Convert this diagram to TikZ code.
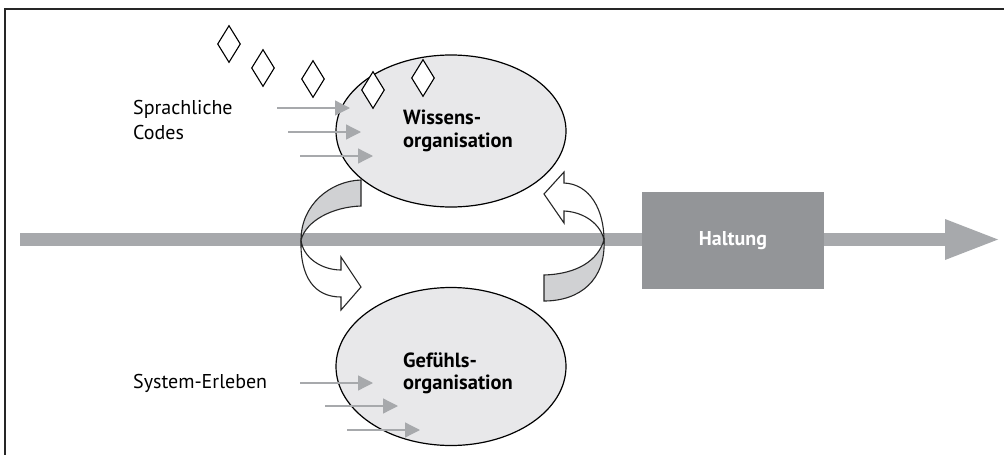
\documentclass[tikz,border=0pt]{standalone}
\usepackage{fontspec}
\setmainfont{PT Sans}
\usetikzlibrary{shapes, arrows.meta, positioning}

\definecolor{bargray}{RGB}{167,169,172}
\definecolor{boxgray}{RGB}{147,149,152}
\definecolor{ellgray}{RGB}{232,232,234}
\definecolor{bandgray}{RGB}{208,209,211}

\begin{document}
\begin{tikzpicture}[
    x=1pt, y=-1pt,
    font=\fontsize{20}{24.5}\selectfont,
    orga/.style={draw, ellipse, line width=1.2pt, fill=ellgray, minimum width=230pt},
    orgatext/.style={align=left, inner sep=0pt, font=\fontsize{20.5}{22.5}\selectfont\bfseries},
    sidetext/.style={anchor=west, align=left, inner sep=0pt},
    code/.style={draw, diamond, fill=white, line width=1.1pt, minimum width=23pt, minimum height=37pt, inner sep=0pt},
    feed/.style={bargray, line width=1.3pt, -{Triangle[length=15pt,width=15pt]}},
    band/.style={draw=black!85, line width=1.1pt},
    mainbar/.style={bargray, line width=13pt, -{Triangle[length=53pt,width=41pt,line width=0pt]}}
]
    \useasboundingbox (0,0) rectangle (1004,455);

    % Frame
    \draw[line width=1.6pt, black!85] (5,455) -- (5,9) -- (1004,9);

    % Main Bar
    \coordinate (barstart) at (20,239.5);
    \coordinate (bartip) at (998,239.5);
    \draw[mainbar] (barstart) -- (bartip);
    \node[draw=none, fill=boxgray, minimum width=182pt, minimum height=97pt, text=white, font=\fontsize{20}{24.5}\selectfont\bfseries] (haltung) at (733,240.5) {Haltung};

    % Organisations
    \node[orga, minimum height=152pt] (wissen) at (451,131) {};
    \node[orga, minimum height=158pt] (gefuehl) at (451,366.5) {};
    \node[orgatext, xshift=7pt] (wissentext) at (wissen.center) {Wissens-\\organisation};
    \node[orgatext, xshift=7pt, yshift=-7pt] (gefuehltext) at (gefuehl.center) {Gef\"uhls-\\organisation};

    % Codes
    \foreach \i/\pos in {1/{(229,44)}, 2/{(263,68)}, 3/{(313,79)}, 4/{(373,90)}, 5/{(423,78)}} {
        \node[code] (code\i) at \pos {};
    }

    % Inputs
    \node[sidetext] (sprache) at (133,120) {Sprachliche\\Codes};
    \node[sidetext] (erleben) at (133,383) {System-Erleben};
    \foreach \i/\dx/\dy in {1/-101/-23, 2/-90/1, 3/-78/25} {
        \draw[feed] (wissen.center) ++(\dx,\dy) coordinate (win\i) ++(-73,0) -- (win\i);
    }
    \foreach \i/\dx/\dy in {1/-78/16.5, 2/-53/39.5, 3/-31/63.5} {
        \draw[feed] (gefuehl.center) ++(\dx,\dy) coordinate (gin\i) ++(-73,0) -- (gin\i);
    }

    % Left loop
    \filldraw[band, fill=bandgray] (361,180) .. controls (330,181) and (301,205) .. (301,240)
        .. controls (306,221) and (332,207) .. (361,206) -- cycle;
    \filldraw[band, fill=white] (301,240) .. controls (300,278) and (315,297) .. (341,297)
        -- (341,310) -- (361,287) -- (341,257) -- (341,270)
        .. controls (322,270) and (303,258) .. (301,240) -- cycle;

    % Right loop
    \filldraw[band, fill=white] (604,240) .. controls (604,210) and (590,184) .. (564,183)
        -- (564,172) -- (544,194) -- (564,223) -- (564,211)
        .. controls (585,212) and (601,225) .. (604,240) -- cycle;
    \filldraw[band, fill=bandgray] (604,240) .. controls (606,280) and (580,301) .. (544,301)
        -- (544,275) .. controls (578,274) and (598,260) .. (604,240) -- cycle;

\end{tikzpicture}
\end{document}
